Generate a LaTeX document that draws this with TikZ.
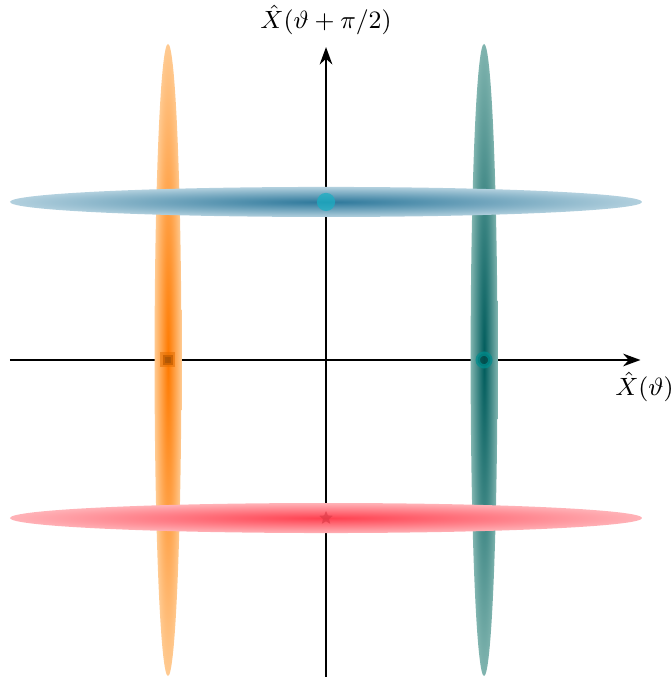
\documentclass[tikz,border=0pt]{standalone}
\usepackage{xcolor}
\usepackage{tikz}
\usetikzlibrary{arrows.meta,positioning,shapes.geometric}

\definecolor{sqblue}{RGB}{45,120,155}
\definecolor{sqbluelight}{RGB}{178,208,222}
\definecolor{sqorange}{RGB}{255,122,0}
\definecolor{sqorangelight}{RGB}{255,202,145}
\definecolor{sqteal}{RGB}{0,92,92}
\definecolor{sqteallight}{RGB}{128,180,175}
\definecolor{sqred}{RGB}{255,65,80}
\definecolor{sqredlight}{RGB}{255,178,183}

\begin{document}
\begin{tikzpicture}[
    x=2cm, y=2cm,
    font=\small,
    axis/.style={-{Stealth[length=2.2mm,width=1.6mm]}, line width=0.7pt},
    hsqueeze/.style={x radius=2, y radius=0.095},
    vsqueeze/.style={x radius=0.085, y radius=2},
    dot/.style={circle, inner sep=0pt, minimum size=2.3mm, fill opacity=0.75, draw opacity=0.75},
    sqmark/.style={rectangle, inner sep=0pt, minimum size=1.3mm, fill opacity=0.75, draw opacity=0.55, line width=0.6mm},
    starmark/.style={star, star points=5, star point ratio=2.2, inner sep=0pt, minimum size=1.8mm, fill opacity=0.6}
  ]
    \useasboundingbox (-2.063,-2.006) rectangle (2.184,2.278);
    % axes
    \coordinate (xl) at (-2,0);
    \coordinate (xr) at (1.99,0);
    \coordinate (yb) at (0,-2.01);
    \coordinate (yt) at (0,1.98);
    \draw[axis] (xl) -- (xr);
    \draw[axis] (yb) -- (yt);
    \node[above=0.3mm of yt] (ylabel) {$\hat{X}(\vartheta+\pi/2)$};
    \node[below=0.3mm of xr, xshift=0.5mm] (xlabel) {$\hat{X}(\vartheta)$};
    % amplitude squeezed states
    \shade[inner color=sqorange, outer color=sqorangelight] (-1,0) ellipse[vsqueeze];
    \shade[inner color=sqteal, outer color=sqteallight] (1,0) ellipse[vsqueeze];
    % phase squeezed states
    \shade[inner color=sqblue, outer color=sqbluelight] (0,1) ellipse[hsqueeze];
    \shade[inner color=sqred, outer color=sqredlight] (0,-1) ellipse[hsqueeze];
    % centres
    \node[dot, fill=sqblue!60!cyan] (cblue) at (0,1) {};
    \node[dot, fill=sqteal!80!black, draw=sqteal!70!cyan, line width=0.55mm, minimum size=1.6mm] (cteal) at (1,0) {};
    \node[sqmark, fill=sqorange!60!black, draw=sqorange!90!black] (corange) at (-1,0) {};
    \node[starmark, fill=sqred!85!black] (cred) at (0,-1) {};
  \end{tikzpicture}
\end{document}
